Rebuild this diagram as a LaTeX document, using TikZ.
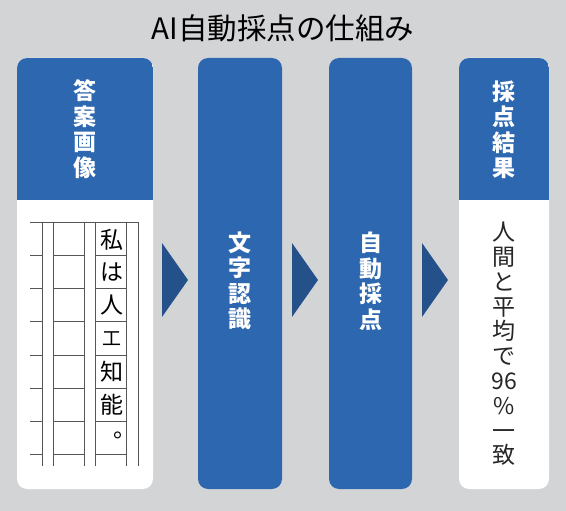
\documentclass[tikz,border=0pt]{standalone}
\usepackage{fontspec}
\setmainfont{Noto Sans CJK JP}
\definecolor{bggray}{HTML}{D3D4D6}
\definecolor{boxblue}{HTML}{2C67AF}
\definecolor{arrowblue}{HTML}{25518A}
\definecolor{gridgray}{HTML}{555555}
\tikzset{
  bluebox/.style={fill=boxblue, rounded corners=10pt, inner sep=0pt, outer sep=0pt},
  whitebox/.style={fill=white, rounded corners=10pt, inner sep=0pt, outer sep=0pt},
  headtext/.style={text=white, align=center, inner sep=0pt, font=\fontsize{23}{25.5}\selectfont\bfseries},
  bodytext/.style={text=black!85, align=center, inner sep=0pt, font=\fontsize{23}{24.8}\selectfont},
  handtext/.style={text=black, inner sep=0pt, font=\fontsize{23}{23}\selectfont},
  stepmark/.style={fill=arrowblue},
  gridline/.style={draw=gridgray, line width=0.8pt},
}
\begin{document}
\begin{tikzpicture}[x=1pt,y=-1pt]
\fill[bggray] (0,0) rectangle (566,511);
\useasboundingbox (0,0) rectangle (566,511);

% title
\node[inner sep=0pt, font=\fontsize{29.5}{29.5}\selectfont] (title) at (283,28) {AI自動採点の仕組み};

% box 1: answer image
\node[whitebox, minimum width=136pt, minimum height=431pt] (box1) at (85,273.5) {};
\begin{scope}
  \clip[rounded corners=10pt] (box1.north west) rectangle (box1.south east);
  \fill[boxblue] (box1.north west) rectangle (153,200);
\end{scope}
\node[headtext] (h1) at (85,129) {答\\案\\画\\像};

% grid (genko yoshi)
\foreach \x in {42.3,53.3,84.3,95.7,126.7,138.3} {
  \draw[gridline] (\x,222.3) -- (\x,466);
}
\draw[gridline] (30,222.3) -- (138.3,222.3);
\foreach \i in {1,...,7} {
  \pgfmathsetmacro{\yy}{222.3+33.15*\i}
  \draw[gridline] (30,\yy) -- (42.3,\yy);
  \draw[gridline] (53.3,\yy) -- (84.3,\yy);
  \draw[gridline] (95.7,\yy) -- (126.7,\yy);
}
\node[handtext] (c1) at (111.5,239.5) {私};
\node[handtext] (c2) at (111.5,272.5) {は};
\node[handtext] (c3) at (111.5,305.5) {人};
\node[handtext, font=\fontsize{19}{19}\selectfont] (c4) at (111.5,338.5) {工};
\node[handtext] (c5) at (111.5,371.5) {知};
\node[handtext] (c6) at (111.5,405) {能};
\node[handtext] (c7) at (125,435) {。};

% box 2
\node[bluebox, minimum width=84pt, minimum height=431pt] (box2) at (240,273.5) {};
\node[headtext] (h2) at (240,281) {文\\字\\認\\識};

% box 3
\node[bluebox, minimum width=83pt, minimum height=431pt] (box3) at (370.5,273.5) {};
\node[headtext] (h3) at (370.5,281) {自\\動\\採\\点};

% box 4
\node[whitebox, minimum width=90pt, minimum height=431pt] (box4) at (504,273.5) {};
\begin{scope}
  \clip[rounded corners=10pt] (box4.north west) rectangle (box4.south east);
  \fill[boxblue] (box4.north west) rectangle (549,200);
\end{scope}
\node[headtext] (h4) at (504,130) {採\\点\\結\\果};
\node[bodytext] (res) at (504,344) {人\\間\\と\\平\\均\\で\\96\\\%\\一\\致};

% arrows
\fill[stepmark] (162,243) -- (188,280) -- (162,317) -- cycle;
\fill[stepmark] (292,243) -- (318,280) -- (292,317) -- cycle;
\fill[stepmark] (422,243) -- (448,280) -- (422,317) -- cycle;
\end{tikzpicture}
\end{document}
